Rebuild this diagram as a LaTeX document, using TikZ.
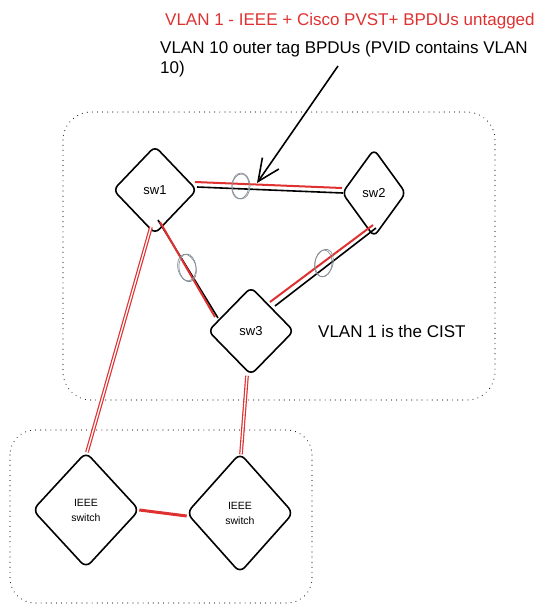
\documentclass[tikz,border=0pt]{standalone}
\usepackage{fontspec}
\setmainfont{Liberation Sans}
\usetikzlibrary{shapes.geometric,arrows.meta,calc}
\definecolor{xred}{HTML}{E03131}
\definecolor{xgray}{HTML}{868E96}
\tikzset{
  swbox/.style={diamond, draw=black, line width=1.6pt, rounded corners=6pt, inner sep=0pt, font=\fontsize{13}{15}\selectfont},
  ieeebox/.style={diamond, draw=black, line width=1.6pt, rounded corners=7pt, inner sep=0pt, align=center, font=\fontsize{10.5}{15}\selectfont},
  grp/.style={draw=black!85, line width=1.1pt, dash pattern=on 0.1pt off 5pt, line cap=round, rounded corners=28pt},
  redlink/.style={draw=xred, line width=2pt},
  blacklink/.style={draw=black, line width=1.6pt},
  reddouble/.style={draw=xred, line width=1.2pt, double=white, double distance=1.3pt},
  lag/.style={draw=xgray, line width=0.7pt},
  lbl/.style={anchor=base west, align=left, font=\fontsize{17}{20}\selectfont, inner sep=0pt}
}
\begin{document}
\begin{tikzpicture}[x=1pt,y=-1pt]
\useasboundingbox (0,0) rectangle (550,614);
% groups
\draw[grp] (63,112) rectangle (495,400);
\draw[grp, rounded corners=25pt] (10,430) rectangle (312,603);
% switches
\node[swbox, minimum width=84pt, minimum height=88pt] (sw1) at (155,190) {sw1};
\node[swbox, minimum width=64pt, minimum height=88pt] (sw2) at (374,193) {sw2};
\node[swbox, minimum width=86pt, minimum height=88pt] (sw3) at (251,331) {sw3};
\node[ieeebox, minimum width=107pt, minimum height=116pt] (ie1) at (86,510) {IEEE\\switch};
\node[ieeebox, minimum width=107pt, minimum height=120pt] (ie2) at (240,513) {IEEE\\switch};
% links sw1-sw2
\draw[redlink] ($(sw1.center)+(40,-8)$) -- ($(sw2.center)+(-32,-5)$);
\draw[blacklink] ($(sw1.center)+(42,-3)$) -- ($(sw2.center)+(-31,0)$);
% links sw1-sw3
\draw[blacklink] ($(sw1.center)+(3,30)$) -- ($(sw3.center)+(-33,-13)$);
\draw[redlink] ($(sw1.center)+(5,32)$) -- ($(sw3.center)+(-36,-14)$);
% links sw2-sw3
\draw[redlink] ($(sw2.center)+(-1,32)$) -- ($(sw3.center)+(19,-29)$);
\draw[blacklink] ($(sw2.center)+(2,35)$) -- ($(sw3.center)+(24,-25)$);
% links to IEEE switches
\draw[reddouble] ($(sw1.center)+(-4,37)$) -- ($(ie1.north)+(1,1)$);
\draw[reddouble] ($(sw3.south)+(-4,0)$) -- ($(ie2.north)+(1,2)$);
\draw[draw=xred, line width=3pt] ($(ie1.east)+(-1,0)$) -- ($(ie2.west)+(1,3)$);
% LAG ellipses
\draw[lag] (241,186) ellipse [x radius=9pt, y radius=13pt];
\draw[lag, rotate around={-8:(241,186)}] (240.5,186.5) ellipse [x radius=8.5pt, y radius=12.5pt];
\draw[lag, rotate around={15:(187,268)}] (187,268) ellipse [x radius=9pt, y radius=14pt];
\draw[lag, rotate around={5:(187,268)}] (187.5,267.5) ellipse [x radius=8.5pt, y radius=13.5pt];
\draw[lag, rotate around={-15:(324,263)}] (324,263) ellipse [x radius=9pt, y radius=14pt];
\draw[lag, rotate around={-5:(324,263)}] (323.5,263.5) ellipse [x radius=8.5pt, y radius=13.5pt];
% texts
\node[lbl, text=xred] (t1) at (165,25) {VLAN 1 - IEEE + Cisco PVST+ BPDUs untagged};
\node[lbl] (t2) at (160,53) {VLAN 10 outer tag BPDUs (PVID contains VLAN};
\node[lbl] (t2b) at (160,73) {10)};
\node[lbl] (t3) at (318,337) {VLAN 1 is the CIST};
% arrow
\coordinate (as) at (338,66);
\coordinate (ae) at (257,183);
\draw[black, line width=1.6pt, -{Straight Barb[length=22pt,width=20pt,line width=1.6pt]}] (as) -- (ae);
\end{tikzpicture}
\end{document}
